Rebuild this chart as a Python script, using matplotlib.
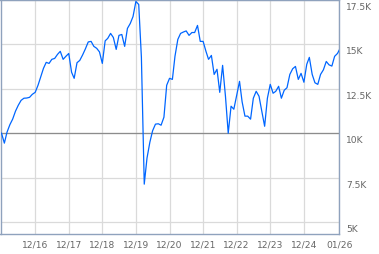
import numpy as np
import pandas as pd
import matplotlib
matplotlib.use("Agg")
import matplotlib.pyplot as plt
import matplotlib.dates as mdates
from matplotlib.transforms import ScaledTranslation

# growth of 10K, month-end values from Dec 2015, last point mid Jan 2026
dates = list(pd.date_range("2015-12-31", "2025-12-31", freq="ME")) + [pd.Timestamp("2026-01-20")]
values = [
    10000, 9440, 10060, 10480, 10790, 11240, 11570, 11850, 11970, 11980, 12020, 12190,
    12300, 12700, 13150, 13650, 13990, 13930, 14160, 14210, 14440, 14610, 14160, 14330,
    14490, 13430, 13090, 13970, 14100, 14410, 14750, 15140, 15170, 14890, 14780, 14580,
    13930, 15200, 15340, 15620, 15390, 14720, 15510, 15560, 14890, 15900, 16180, 16570,
    17420, 17250, 14270, 7130, 8600, 9490, 10140, 10510, 10530, 10450, 10900, 12700,
    13090, 13030, 14330, 15280, 15620, 15700, 15760, 15510, 15670, 15670, 16070, 15170,
    15170, 14610, 14160, 14380, 13310, 13600, 12300, 13820, 12080, 10000, 11520, 11350,
    12130, 12920, 11770, 10960, 10960, 10790, 11970, 12360, 12080, 11240, 10390, 11970,
    12750, 12250, 12360, 12640, 11970, 12420, 12560, 13310, 13630, 13760, 13030, 13370,
    12870, 13880, 14270, 13310, 12840, 12750, 13310, 13570, 14040, 13850, 13780, 14330,
    14490, 14690,
]
y_ticks = [5000, 7500, 10000, 12500, 15000, 17500]
y_labels = ["5K", "7.5K", "10K", "12.5K", "15K", "17.5K"]
x_ticks = [pd.Timestamp(f"{y}-12-31") for y in range(2016, 2025)] + [pd.Timestamp("2026-01-20")]
baseline = 10000

frame_col = "#8fa2bd"
grid_col = "#dadada"
text_col = "#666666"

fig = plt.figure(figsize=(3.79, 2.55), dpi=100)
ax = fig.add_axes([0.5 / 379, 1 - 234.5 / 255, 339 / 379, 234 / 255])

ax.plot(dates, values, color="#0066ff", linewidth=0.9, zorder=3)
ax.axhline(baseline, color="#8c8c8c", linewidth=0.9, zorder=2)

ax.set_xlim(pd.Timestamp("2015-12-20"), pd.Timestamp("2026-01-22"))
ax.set_ylim(4350, 17530)

ax.set_xticks(x_ticks)
ax.xaxis.set_major_formatter(mdates.DateFormatter("%m/%y"))
ax.set_yticks(y_ticks)
ax.set_yticklabels(y_labels)
ax.yaxis.tick_right()
ax.tick_params(axis="both", length=0, colors=text_col, labelsize=6.6)
ax.tick_params(axis="x", pad=4)
ax.tick_params(axis="y", pad=5)
for lab in ax.get_yticklabels():
    lab.set_verticalalignment("top")
    lab.set_horizontalalignment("left")
    lab.set_transform(lab.get_transform() + ScaledTranslation(0, -2 / 100, fig.dpi_scale_trans))

ax.grid(True, color=grid_col, linewidth=0.9, zorder=1)
ax.set_axisbelow(True)
for s in ax.spines.values():
    s.set_color(frame_col)
    s.set_linewidth(1.0)

fig.savefig("out.png", dpi=100)
